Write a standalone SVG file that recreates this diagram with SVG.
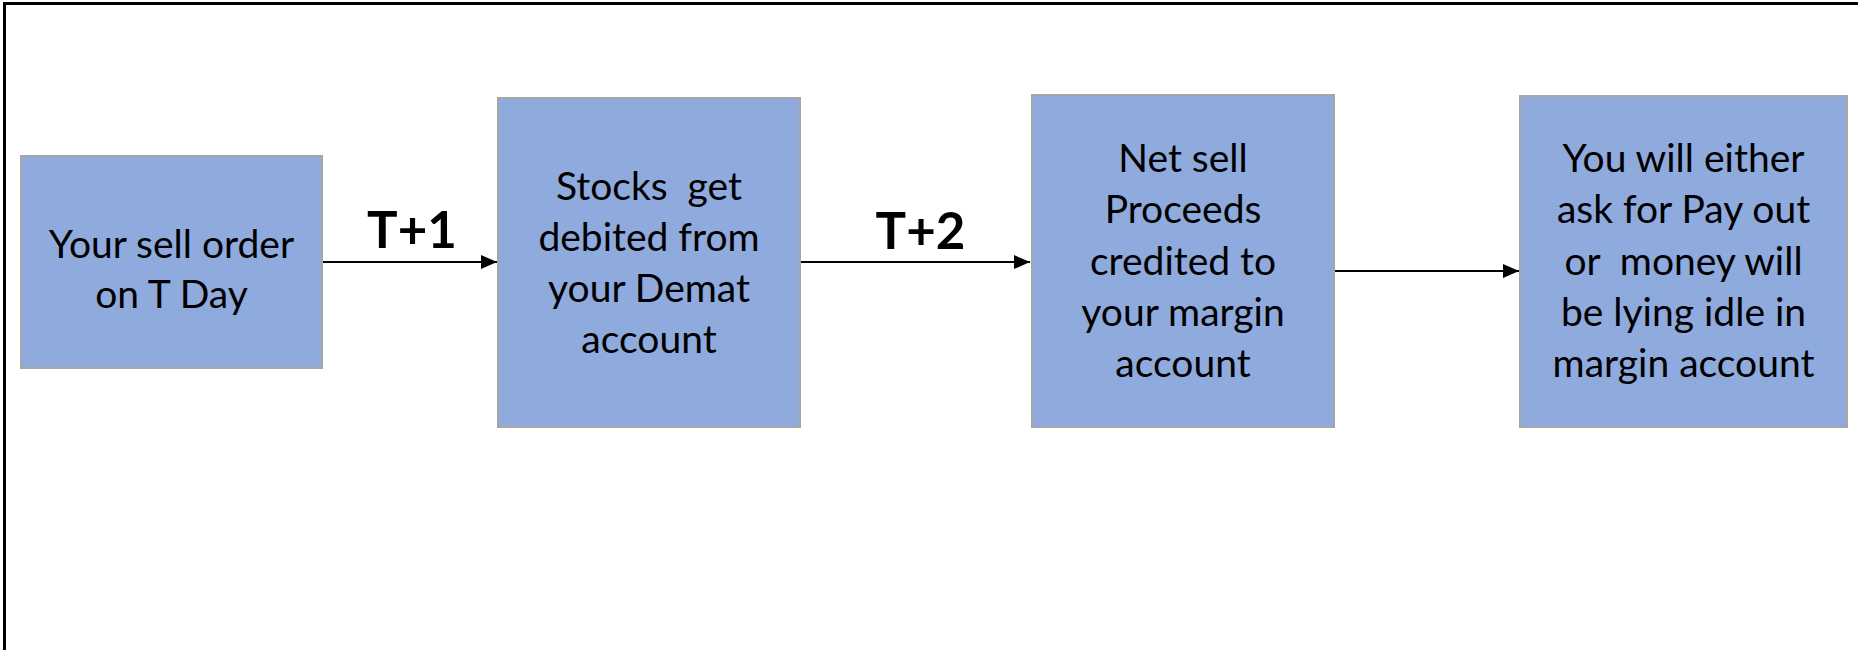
<svg xmlns="http://www.w3.org/2000/svg" width="1858" height="650" viewBox="0 0 1858 650">
  <style>
    .box { fill: #8FAADC; stroke: #A6A6A6; stroke-width: 2; }
    .lbl { font-family: "Lato", "Liberation Sans", sans-serif; font-size: 39px; fill: #000; text-anchor: middle; }
    .step { font-family: "Lato", "Liberation Sans", sans-serif; font-size: 51px; font-weight: bold; fill: #000; text-anchor: middle; }
    .conn { stroke: #000; stroke-width: 2; fill: none; marker-end: url(#arrow); }
  </style>
  <defs>
    <marker id="arrow" markerUnits="userSpaceOnUse" markerWidth="16" markerHeight="14" refX="16" refY="7" orient="auto">
      <path d="M0,0 L16,7 L0,14 z" fill="#000"/>
    </marker>
  </defs>

  <rect width="1858" height="650" fill="#fff"/>
  <!-- outer frame (top and left edges) -->
  <path d="M4.5,650 V3.5 H1858" fill="none" stroke="#000" stroke-width="3"/>

  <g id="sell-order">
    <rect class="box" x="21" y="156" width="301" height="212"/>
    <text class="lbl" x="171.5" y="258">Your sell order</text>
    <text class="lbl" x="171.5" y="308">on T Day</text>
  </g>

  <g id="stocks-debited">
    <rect class="box" x="498" y="98" width="302" height="329"/>
    <text class="lbl" x="649" y="200" xml:space="preserve">Stocks  get</text>
    <text class="lbl" x="649" y="251">debited from</text>
    <text class="lbl" x="649" y="302">your Demat</text>
    <text class="lbl" x="649" y="353">account</text>
  </g>

  <g id="proceeds-credited">
    <rect class="box" x="1032" y="95" width="302" height="332"/>
    <text class="lbl" x="1183" y="172">Net sell</text>
    <text class="lbl" x="1183" y="223">Proceeds</text>
    <text class="lbl" x="1183" y="275">credited to</text>
    <text class="lbl" x="1183" y="326">your margin</text>
    <text class="lbl" x="1183" y="377">account</text>
  </g>

  <g id="payout-or-idle">
    <rect class="box" x="1520" y="96" width="327" height="331"/>
    <text class="lbl" x="1683.5" y="172">You will either</text>
    <text class="lbl" x="1683.5" y="223">ask for Pay out</text>
    <text class="lbl" x="1683.5" y="275" xml:space="preserve">or  money will</text>
    <text class="lbl" x="1683.5" y="326">be lying idle in</text>
    <text class="lbl" x="1683.5" y="377">margin account</text>
  </g>

  <g id="connectors">
    <line class="conn" x1="323" y1="262" x2="497" y2="262"/>
    <text class="step" x="412" y="248">T+1</text>
    <line class="conn" x1="801" y1="262" x2="1030" y2="262"/>
    <text class="step" x="920.5" y="249">T+2</text>
    <line class="conn" x1="1335" y1="271" x2="1519" y2="271"/>
  </g>
</svg>
